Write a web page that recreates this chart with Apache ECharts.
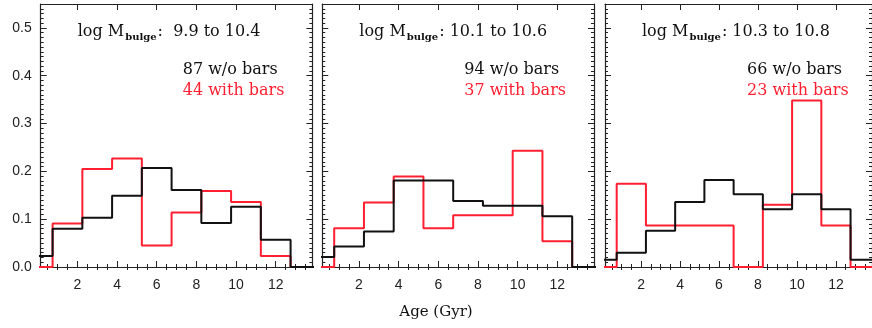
<!DOCTYPE html>
<html>
<head>
<meta charset="utf-8">
<script src="https://cdn.jsdelivr.net/npm/echarts@6/dist/echarts.min.js"></script>
<style>
  html, body { margin: 0; padding: 0; background: #fff; }
  #chart { width: 872px; height: 328px; }
</style>
</head>
<body>
<div id="chart"></div>
<script>
// Bin centres (Gyr) of the 1.5 Gyr wide age bins; the last one lies past the axis end
const ageBins = [0, 1.5, 3, 4.5, 6, 7.5, 9, 10.5, 12, 13.5, 15];

// Bulge-mass ranges and sample sizes per panel
const massRanges = ['  9.9 to 10.4', ' 10.1 to 10.6', ' 10.3 to 10.8'];
const countsNoBar = [87, 94, 66];
const countsBar = [44, 37, 23];

// Fraction of galaxies per age bin, galaxies without bars
const noBarLow = [0.023, 0.080, 0.103, 0.149, 0.207, 0.161, 0.092, 0.126, 0.057, 0, 0];
const noBarMid = [0.021, 0.043, 0.074, 0.181, 0.181, 0.138, 0.128, 0.128, 0.106, 0, 0];
const noBarHigh = [0.015, 0.030, 0.076, 0.136, 0.182, 0.152, 0.121, 0.152, 0.121, 0.015, 0];

// Fraction of galaxies per age bin, galaxies with bars
const barLow = [0, 0.091, 0.205, 0.227, 0.045, 0.114, 0.159, 0.136, 0.023, 0, 0];
const barMid = [0, 0.081, 0.135, 0.189, 0.081, 0.108, 0.108, 0.243, 0.054, 0, 0];
const barHigh = [0, 0.174, 0.087, 0.087, 0.087, 0, 0.130, 0.348, 0.087, 0, 0];

// Tick positions
const xMajorTicks = [2, 4, 6, 8, 10, 12];
const yMajorTicks = [0, 0.1, 0.2, 0.3, 0.4, 0.5];

const xRange = [0.15, 13.85];
const yRange = [0, 0.55];

const xMinorTicks = [];
for (let v = 0.5; v < 14; v += 0.5) if (v % 2 !== 0) xMinorTicks.push(v);
const yMinorTicks = [];
for (let k = 1; k < 55; k++) if (k % 10 !== 0) yMinorTicks.push(+(k * 0.01).toFixed(2));

const noBarSets = [noBarLow, noBarMid, noBarHigh];
const barSets = [barLow, barMid, barHigh];

const RED = '#ff1f30';
const INK = '#111';
const AXIS = '#222';
const panelLeft = [40.7, 322.3, 605];
const panelWidth = 271.7;
const panelTop = 4;
const panelHeight = 263;

const serif = '"DejaVu Serif", serif';
const sans = '"Liberation Sans", Arial, sans-serif';

const grid = [], xAxis = [], yAxis = [], series = [], title = [];

function pairs(vals) { return ageBins.map((a, i) => [a, vals[i]]); }

panelLeft.forEach((left, p) => {
  const gMajor = grid.length;
  grid.push({ left, top: panelTop, width: panelWidth, height: panelHeight });
  const gMinor = grid.length;
  grid.push({ left, top: panelTop, width: panelWidth, height: panelHeight });

  const line = { show: true, onZero: false, lineStyle: { color: AXIS, width: 1.2 } };
  const noLine = { show: false };

  // major-tick axes (frame + labels)
  const xBottom = xAxis.length;
  xAxis.push({
    gridIndex: gMajor, type: 'value', position: 'bottom', min: xRange[0], max: xRange[1],
    axisLine: line, splitLine: { show: false },
    axisTick: { show: true, inside: true, length: 6, customValues: xMajorTicks, lineStyle: { color: AXIS, width: 1 } },
    axisLabel: { show: true, customValues: xMajorTicks, margin: 11, color: '#222', fontFamily: sans, fontSize: 14 }
  });
  xAxis.push({
    gridIndex: gMajor, type: 'value', position: 'top', min: xRange[0], max: xRange[1],
    axisLine: line, splitLine: { show: false },
    axisTick: { show: true, inside: true, length: 6, customValues: xMajorTicks, lineStyle: { color: AXIS, width: 1 } },
    axisLabel: { show: false }
  });
  const yLeft = yAxis.length;
  yAxis.push({
    gridIndex: gMajor, type: 'value', position: 'left', min: yRange[0], max: yRange[1],
    axisLine: line, splitLine: { show: false },
    axisTick: { show: true, inside: true, length: 6, customValues: yMajorTicks, lineStyle: { color: AXIS, width: 1 } },
    axisLabel: { show: p === 0, customValues: yMajorTicks, margin: 9, color: '#222', fontFamily: sans, fontSize: 14,
      formatter: v => v.toFixed(1) }
  });
  yAxis.push({
    gridIndex: gMajor, type: 'value', position: 'right', min: yRange[0], max: yRange[1],
    axisLine: line, splitLine: { show: false },
    axisTick: { show: true, inside: true, length: 6, customValues: yMajorTicks, lineStyle: { color: AXIS, width: 1 } },
    axisLabel: { show: false }
  });

  // minor-tick axes
  ['bottom', 'top'].forEach(pos => xAxis.push({
    gridIndex: gMinor, type: 'value', position: pos, min: xRange[0], max: xRange[1],
    axisLine: noLine, splitLine: { show: false }, axisLabel: { show: false },
    axisTick: { show: true, inside: true, length: 3, customValues: xMinorTicks, lineStyle: { color: AXIS, width: 1 } }
  }));
  ['left', 'right'].forEach(pos => yAxis.push({
    gridIndex: gMinor, type: 'value', position: pos, min: yRange[0], max: yRange[1],
    axisLine: noLine, splitLine: { show: false }, axisLabel: { show: false },
    axisTick: { show: true, inside: true, length: 3, customValues: yMinorTicks, lineStyle: { color: AXIS, width: 1 } }
  }));

  // histograms: barred sample first, unbarred drawn over it
  series.push({
    type: 'line', xAxisIndex: xBottom, yAxisIndex: yLeft, step: 'middle', symbol: 'none',
    data: pairs(barSets[p]), lineStyle: { color: RED, width: 2 }, z: 3, animation: false
  });
  series.push({
    type: 'line', xAxisIndex: xBottom, yAxisIndex: yLeft, step: 'middle', symbol: 'none',
    data: pairs(noBarSets[p]), lineStyle: { color: INK, width: 2 }, z: 4, animation: false
  });

  // panel annotations
  title.push({
    left: left + 37, top: 22, padding: 0,
    text: '{m|log M}{s|bulge}{m|:' + massRanges[p] + '}',
    textStyle: { fontWeight: 'normal', rich: {
      m: { fontFamily: serif, fontSize: 16, fontWeight: 'normal', color: INK },
      s: { fontFamily: serif, fontSize: 10, fontWeight: 'bold', color: INK, padding: [10, 1, 0, 1] }
    } }
  });
  title.push({
    left: left + 142, top: 62, padding: 0, text: countsNoBar[p] + ' w/o bars',
    textStyle: { fontFamily: serif, fontSize: 16, fontWeight: 'normal', color: INK }
  });
  title.push({
    left: left + 142, top: 83, padding: 0, text: countsBar[p] + ' with bars',
    textStyle: { fontFamily: serif, fontSize: 16, fontWeight: 'normal', color: RED }
  });
});

title.push({
  left: 'center', top: 305, padding: 0, text: 'Age (Gyr)',
  textStyle: { fontFamily: serif, fontSize: 15, fontWeight: 'normal', color: INK }
});

const chart = echarts.init(document.getElementById('chart'), null, { renderer: 'canvas' });
chart.setOption({ animation: false, backgroundColor: '#fff', grid, xAxis, yAxis, series, title });
</script>
</body>
</html>
